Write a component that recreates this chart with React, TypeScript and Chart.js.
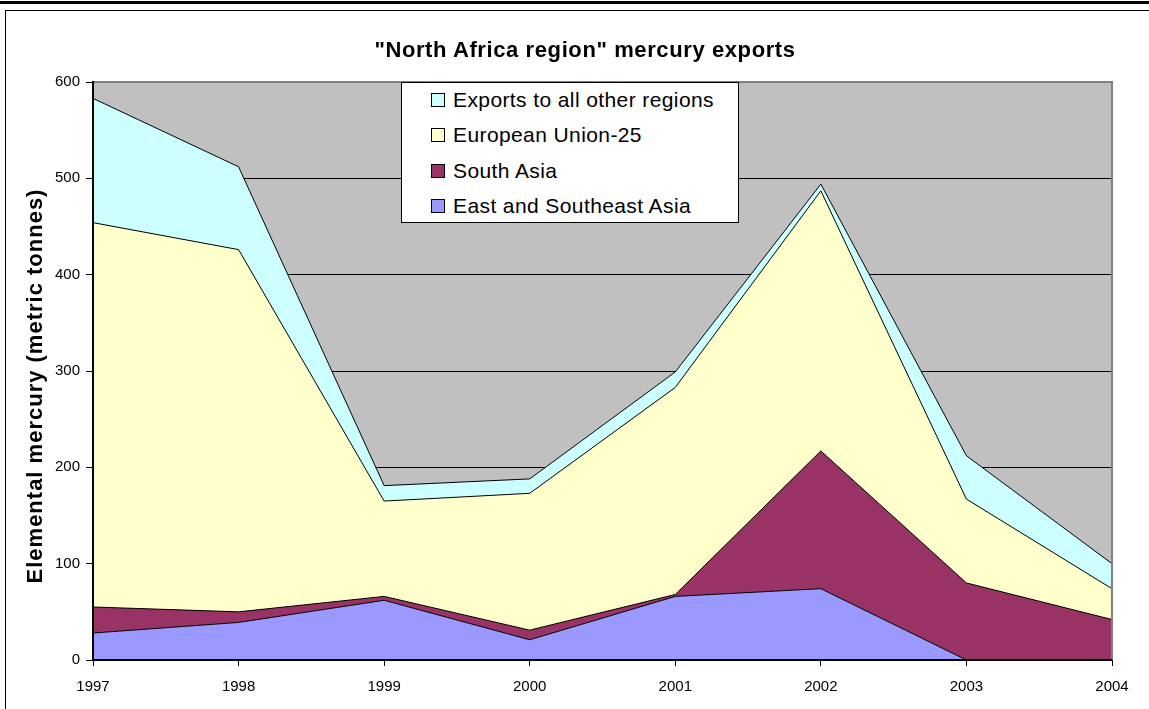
import React, { useEffect, useRef } from "react";
import { Chart, registerables } from "chart.js";

Chart.register(...registerables);

// ---- data ----
const years = ["1997", "1998", "1999", "2000", "2001", "2002", "2003", "2004"];
const eastSoutheastAsia = [28, 39, 62, 21, 66, 74, 0, 0];
const southAsia = [27, 11, 4, 10, 2, 143, 80, 42];
const europeanUnion25 = [399, 376, 99, 142, 215, 270, 87, 32];
const otherRegions = [129, 86, 16, 15, 16, 7, 45, 26];
const seriesLabels = [
  "East and Southeast Asia",
  "South Asia",
  "European Union-25",
  "Exports to all other regions",
];
const seriesColors = ["#9999FF", "#993366", "#FFFFCC", "#CCFFFF"];
const yMin = 0;
const yMax = 600;
const yStep = 100;
const chartTitle = '"North Africa region" mercury exports';
const yAxisTitle = "Elemental mercury (metric tonnes)";

const FONT = '"Liberation Sans", Arial, Helvetica, sans-serif';

const plotDecor = {
  id: "plotDecor",
  beforeDraw(chart: any) {
    const { ctx, chartArea } = chart;
    const { left, top, width, height } = chartArea;
    ctx.save();
    ctx.fillStyle = "#C0C0C0";
    ctx.fillRect(left, top, width, height);
    ctx.restore();
  },
  afterDatasetsDraw(chart: any) {
    const { ctx, chartArea } = chart;
    const { left, top, right, bottom, width, height } = chartArea;
    ctx.save();
    ctx.fillStyle = "#808080";
    ctx.fillRect(left, top - 1, width, 2);
    ctx.fillRect(right - 1, top - 1, 2, height + 1);
    ctx.fillStyle = "#000000";
    ctx.fillRect(left - 1, top - 1, 2, height + 2);
    ctx.fillRect(left - 1, bottom - 1, width + 1, 2);
    ctx.restore();
  },
  afterDraw(chart: any) {
    // vertical axis title
    const { ctx } = chart;
    ctx.save();
    ctx.translate(35.5, 386);
    ctx.rotate(-Math.PI / 2);
    ctx.font = `bold 22px ${FONT}`;
    try {
      (ctx as any).letterSpacing = "1px";
    } catch (e) {}
    ctx.fillStyle = "#000000";
    ctx.textAlign = "center";
    ctx.textBaseline = "middle";
    ctx.fillText(yAxisTitle, 0, 0);
    ctx.restore();
  },
};

export default function App() {
  const canvasRef = useRef<HTMLCanvasElement | null>(null);

  useEffect(() => {
    if (!canvasRef.current) return;
    const seriesValues = [eastSoutheastAsia, southAsia, europeanUnion25, otherRegions];
    const chart = new Chart(canvasRef.current, {
      type: "line",
      data: {
        labels: years,
        datasets: seriesValues.map((vals, i) => ({
          label: seriesLabels[i],
          data: vals,
          backgroundColor: seriesColors[i],
          borderColor: "#000000",
          borderWidth: 1,
          pointRadius: 0,
          pointHoverRadius: 0,
          tension: 0,
          fill: i === 0 ? "origin" : "-1",
        })),
      },
      options: {
        responsive: false,
        animation: false,
        events: [],
        layout: { padding: { left: 0, top: 82, right: 37, bottom: 0 } },
        plugins: {
          legend: { display: false },
          title: { display: false },
          tooltip: { enabled: false },
        },
        scales: {
          x: {
            offset: false,
            grid: {
              drawOnChartArea: false,
              drawTicks: true,
              tickLength: 6,
              color: "#000000",
              offset: false,
            },
            border: { display: true, color: "#000000", width: 1 },
            ticks: {
              color: "#000000",
              padding: 12,
              font: { family: FONT, size: 15 },
              maxRotation: 0,
              autoSkip: false,
            },
            afterFit(scale: any) {
              scale.height = 49;
            },
          },
          y: {
            stacked: true,
            min: yMin,
            max: yMax,
            grid: {
              color: "#000000",
              lineWidth: 1,
              drawTicks: true,
              tickLength: 7,
            },
            border: { display: true, color: "#000000", width: 1 },
            ticks: {
              stepSize: yStep,
              color: "#000000",
              padding: 6,
              font: { family: FONT, size: 15 },
            },
            title: { display: false },
            afterFit(scale: any) {
              scale.width = 93;
            },
          },
        },
      },
      plugins: [plotDecor],
    });
    return () => chart.destroy();
  }, []);

  const legendOrder = [3, 2, 1, 0];

  return (
    <div
      style={{
        position: "absolute",
        left: 0,
        top: 0,
        width: 1149,
        height: 709,
        overflow: "hidden",
        background: "#ffffff",
        fontFamily: FONT,
      }}
    >
      <div style={{ position: "absolute", left: 0, top: 1, width: 1149, height: 3, background: "#000" }} />
      <div
        style={{
          position: "absolute",
          left: 5,
          top: 10,
          width: 1150,
          height: 710,
          borderTop: "1px solid #000",
          borderLeft: "1px solid #000",
          boxSizing: "border-box",
        }}
      />
      <canvas
        ref={canvasRef}
        width={1149}
        height={709}
        style={{ position: "absolute", left: 0, top: 0, width: 1149, height: 709 }}
      />
      <div
        style={{
          position: "absolute",
          left: 0,
          top: 37,
          width: 1170,
          textAlign: "center",
          fontWeight: "bold",
          fontSize: 22,
          lineHeight: "26px",
          letterSpacing: "0.6px",
          color: "#000",
          whiteSpace: "nowrap",
        }}
      >
        {chartTitle}
      </div>
      <div
        style={{
          position: "absolute",
          left: 401,
          top: 82,
          width: 338,
          height: 141,
          boxSizing: "border-box",
          border: "1px solid #000",
          background: "#ffffff",
        }}
      >
        {legendOrder.map((idx, row) => (
          <div
            key={idx}
            style={{
              position: "absolute",
              left: 29,
              top: 4.5 + row * 35.5,
              height: 24,
              display: "flex",
              alignItems: "center",
              whiteSpace: "nowrap",
            }}
          >
            <div
              style={{
                width: 14,
                height: 14,
                boxSizing: "border-box",
                border: "1px solid #000",
                background: seriesColors[idx],
              }}
            />
            <span
              style={{
                marginLeft: 8,
                fontSize: 21,
                lineHeight: "24px",
                letterSpacing: "0.4px",
                color: "#000",
              }}
            >
              {seriesLabels[idx]}
            </span>
          </div>
        ))}
      </div>
    </div>
  );
}
